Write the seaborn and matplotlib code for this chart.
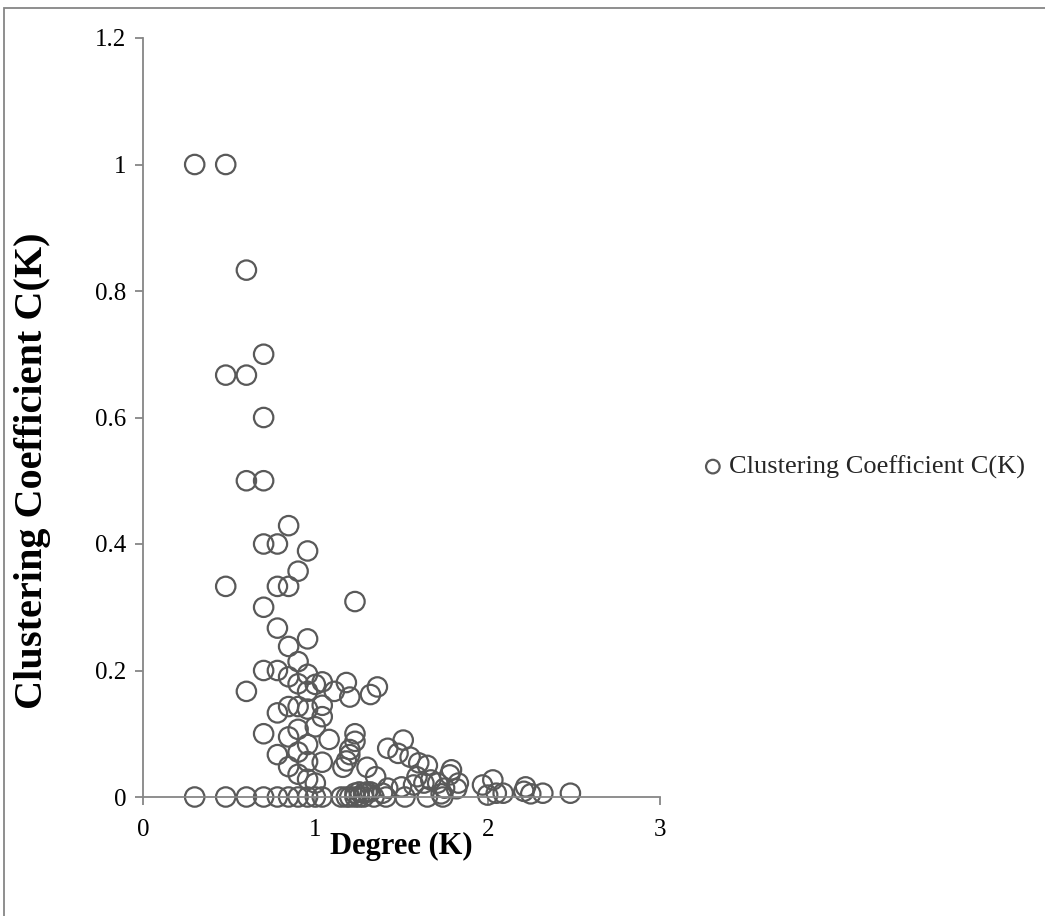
import matplotlib
matplotlib.use("Agg")
import matplotlib.pyplot as plt
import seaborn as sns
import pandas as pd
from matplotlib.patches import Rectangle

degree_log = [
    0.30, 0.30,
    0.48, 0.48, 0.48, 0.48,
    0.60, 0.60, 0.60, 0.60, 0.60,
    0.70, 0.70, 0.70, 0.70, 0.70, 0.70, 0.70, 0.70,
    0.78, 0.78, 0.78, 0.78, 0.78, 0.78, 0.78,
    0.845, 0.845, 0.845, 0.845, 0.845, 0.845, 0.845, 0.845,
    0.90, 0.90, 0.90, 0.90, 0.90, 0.90, 0.90, 0.90,
    0.955, 0.955, 0.955, 0.955, 0.955, 0.955, 0.955, 0.955, 0.955,
    1.00, 1.00, 1.00, 1.00,
    1.04, 1.04, 1.04, 1.04, 1.04,
    1.08, 1.11, 1.15, 1.16,
    1.18, 1.18, 1.18,
    1.20, 1.20, 1.20, 1.20,
    1.23, 1.23, 1.23, 1.23, 1.23,
    1.255, 1.255, 1.28, 1.28, 1.30, 1.30, 1.32, 1.32,
    1.35, 1.34, 1.36,
    1.39, 1.41, 1.42, 1.42,
    1.48, 1.50, 1.51, 1.52,
    1.55, 1.57, 1.59, 1.60,
    1.63, 1.65, 1.65, 1.67,
    1.71, 1.74, 1.75, 1.73,
    1.78, 1.79, 1.83, 1.82,
    1.97, 2.00, 2.03, 2.05, 2.09,
    2.22, 2.21, 2.25, 2.32, 2.48,
]
clustering = [
    1.0, 0.0,
    1.0, 0.667, 0.333, 0.0,
    0.833, 0.667, 0.5, 0.167, 0.0,
    0.7, 0.6, 0.5, 0.4, 0.3, 0.2, 0.1, 0.0,
    0.4, 0.333, 0.267, 0.2, 0.133, 0.067, 0.0,
    0.429, 0.333, 0.238, 0.19, 0.143, 0.095, 0.048, 0.0,
    0.357, 0.214, 0.179, 0.143, 0.107, 0.071, 0.036, 0.0,
    0.389, 0.25, 0.194, 0.167, 0.139, 0.083, 0.056, 0.028, 0.0,
    0.178, 0.111, 0.022, 0.0,
    0.182, 0.145, 0.127, 0.055, 0.0,
    0.091, 0.167, 0.0, 0.047,
    0.181, 0.057, 0.0,
    0.158, 0.075, 0.067, 0.0,
    0.309, 0.1, 0.088, 0.0, 0.006,
    0.0, 0.008, 0.0, 0.006, 0.047, 0.008, 0.162, 0.008,
    0.032, 0.0, 0.174,
    0.006, 0.0, 0.077, 0.014,
    0.069, 0.016, 0.09, 0.0,
    0.063, 0.019, 0.032, 0.054,
    0.022, 0.05, 0.0, 0.027,
    0.022, 0.0, 0.014, 0.005,
    0.035, 0.043, 0.022, 0.013,
    0.019, 0.003, 0.027, 0.006, 0.006,
    0.016, 0.009, 0.005, 0.006, 0.006,
]
x_ticks = [0, 1, 2, 3]
y_ticks = [0, 0.2, 0.4, 0.6, 0.8, 1.0, 1.2]
x_label = "Degree (K)"
y_label = "Clustering Coefficient C(K)"
series_name = "Clustering Coefficient C(K)"

df = pd.DataFrame({"x": degree_log, "y": clustering})

sns.set_theme(style="white")
plt.rcParams["font.family"] = ["Liberation Serif", "DejaVu Serif"]

W, H = 1045, 916
fig = plt.figure(figsize=(W / 100, H / 100), dpi=100)
ax_left, ax_right, ax_top, ax_bottom = 143, 660, 38, 797
ax = fig.add_axes([ax_left / W, 1 - ax_bottom / H, (ax_right - ax_left) / W,
                   (ax_bottom - ax_top) / H])

grey = "#595959"
sns.scatterplot(data=df, x="x", y="y", ax=ax, marker="o", s=195,
                facecolors="none", edgecolor=grey, linewidth=1.6,
                label=series_name, legend=False, clip_on=False)

ax.set_xlim(0, 3)
ax.set_ylim(0, 1.2)
ax.set_xticks(x_ticks)
ax.set_yticks(y_ticks)
ax.set_xticklabels([f"{v:g}" for v in x_ticks])
ax.set_yticklabels([f"{v:g}" for v in y_ticks])

spine_c = "#868686"
for s in ["top", "right"]:
    ax.spines[s].set_visible(False)
for s in ["left", "bottom"]:
    ax.spines[s].set_color(spine_c)
    ax.spines[s].set_linewidth(1.3)
ax.tick_params(axis="both", which="major", direction="out", length=6,
               width=1.3, color=spine_c, labelsize=18, labelcolor="black",
               bottom=True, left=True)
ax.tick_params(axis="y", pad=6)
ax.tick_params(axis="x", pad=10)

aw = ax_right - ax_left
ah = ax_bottom - ax_top
ax.set_xlabel(x_label, fontsize=22, fontweight="bold", color="black", va="center")
ax.xaxis.set_label_coords(0.5, (ax_bottom - 846) / ah)
ax.set_ylabel(y_label, fontsize=29, fontweight="bold", color="black",
              va="center", ha="center")
ax.yaxis.set_label_coords((33 - ax_left) / aw, (ax_bottom - 471) / ah)

handles, labels = ax.get_legend_handles_labels()
fig.legend(handles, labels, loc="center left", bbox_to_anchor=(697 / W, 1 - 467 / H),
           frameon=False, fontsize=19, handletextpad=0.0, handlelength=1.2,
           markerscale=0.7, borderpad=0, borderaxespad=0)

fig.patches.append(Rectangle((4 / W, -0.1), 1.2, 0.1 + (1 - 8 / H), transform=fig.transFigure,
                             fill=False, edgecolor="#868686", linewidth=1.3, zorder=-1))

fig.savefig("out.png", dpi=100)
